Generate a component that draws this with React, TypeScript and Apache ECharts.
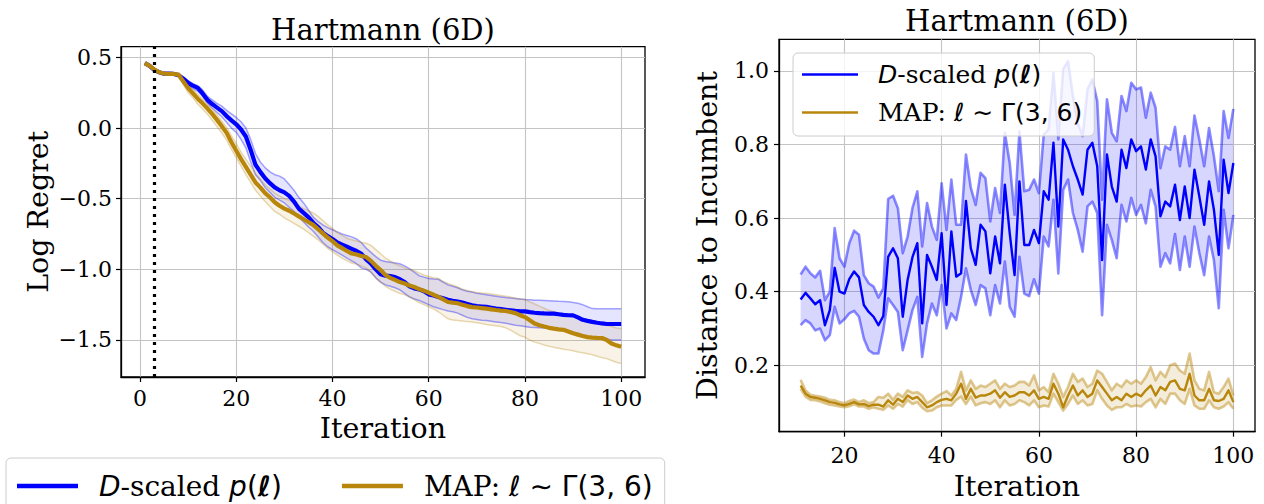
import React, { useEffect, useRef } from 'react';
import * as echarts from 'echarts';

// ---------------- DATA ----------------
const LEFT_ITER = Array.from({ length: 100 }, (_, k) => k + 1);
const RIGHT_ITER = Array.from({ length: 90 }, (_, k) => k + 11);
const VLINE_X = 3;

const LEFT_X_TICKS = [0, 20, 40, 60, 80, 100];
const LEFT_Y_TICKS = [-1.5, -1.0, -0.5, 0.0, 0.5];
const RIGHT_X_TICKS = [20, 40, 60, 80, 100];
const RIGHT_Y_TICKS = [0.2, 0.4, 0.6, 0.8, 1.0];

const NAME_D = 'D-scaled';
const NAME_MAP = 'MAP';

// Left: Log Regret
const L_BLUE_MEAN = [
  0.46, 0.44, 0.41, 0.395, 0.385, 0.385, 0.383, 0.375, 0.35, 0.32,
  0.30, 0.285, 0.245, 0.20, 0.17, 0.145, 0.12, 0.085, 0.055, 0.027,
  -0.01, -0.06, -0.155, -0.26, -0.31, -0.355, -0.39, -0.42, -0.44, -0.455,
  -0.48, -0.52, -0.57, -0.60, -0.63, -0.67, -0.70, -0.74, -0.765, -0.785,
  -0.81, -0.825, -0.84, -0.855, -0.87, -0.89, -0.93, -0.96, -1.0, -1.035,
  -1.045, -1.048, -1.055, -1.07, -1.09, -1.12, -1.135, -1.142, -1.155, -1.177,
  -1.185, -1.195, -1.205, -1.215, -1.222, -1.228, -1.235, -1.245, -1.255, -1.26,
  -1.263, -1.266, -1.272, -1.278, -1.282, -1.286, -1.29, -1.294, -1.297, -1.298,
  -1.303, -1.307, -1.31, -1.312, -1.313, -1.314, -1.318, -1.322, -1.325, -1.326,
  -1.34, -1.357, -1.365, -1.372, -1.378, -1.383, -1.387, -1.387, -1.387, -1.387,
];
const L_BLUE_HI = [
  0.465, 0.445, 0.415, 0.40, 0.39, 0.39, 0.388, 0.38, 0.36, 0.335,
  0.315, 0.30, 0.27, 0.225, 0.20, 0.175, 0.155, 0.125, 0.10, 0.075,
  0.045, 0.0, -0.08, -0.18, -0.24, -0.28, -0.31, -0.33, -0.34, -0.36,
  -0.40, -0.44, -0.49, -0.53, -0.58, -0.63, -0.66, -0.685, -0.705, -0.72,
  -0.735, -0.75, -0.76, -0.77, -0.785, -0.81, -0.85, -0.88, -0.91, -0.935,
  -0.945, -0.95, -0.955, -0.96, -0.975, -0.995, -1.02, -1.045, -1.055, -1.065,
  -1.068, -1.07, -1.09, -1.11, -1.12, -1.13, -1.145, -1.155, -1.16, -1.17,
  -1.175, -1.18, -1.185, -1.19, -1.195, -1.20, -1.203, -1.206, -1.21, -1.214,
  -1.216, -1.218, -1.219, -1.22, -1.222, -1.224, -1.226, -1.227, -1.23, -1.235,
  -1.24, -1.25, -1.265, -1.278, -1.279, -1.279, -1.279, -1.279, -1.279, -1.279,
];
const L_BLUE_LO = [
  0.455, 0.435, 0.405, 0.39, 0.38, 0.38, 0.378, 0.37, 0.335, 0.30,
  0.28, 0.26, 0.225, 0.175, 0.14, 0.11, 0.08, 0.04, 0.0, -0.03,
  -0.08, -0.14, -0.24, -0.33, -0.37, -0.42, -0.455, -0.49, -0.51, -0.53,
  -0.56, -0.59, -0.63, -0.665, -0.70, -0.73, -0.77, -0.81, -0.84, -0.86,
  -0.88, -0.90, -0.92, -0.94, -0.96, -0.99, -1.0, -1.02, -1.06, -1.09,
  -1.11, -1.12, -1.13, -1.145, -1.17, -1.195, -1.21, -1.22, -1.235, -1.25,
  -1.265, -1.275, -1.285, -1.295, -1.30, -1.31, -1.325, -1.34, -1.35, -1.355,
  -1.36, -1.362, -1.367, -1.372, -1.377, -1.381, -1.388, -1.395, -1.40, -1.405,
  -1.41, -1.412, -1.414, -1.416, -1.418, -1.42, -1.421, -1.423, -1.435, -1.445,
  -1.455, -1.465, -1.475, -1.48, -1.483, -1.488, -1.495, -1.5, -1.5, -1.5,
];
const L_GOLD_MEAN = [
  0.46, 0.44, 0.415, 0.395, 0.386, 0.384, 0.383, 0.378, 0.33, 0.283,
  0.245, 0.208, 0.175, 0.14, 0.10, 0.058, 0.013, -0.034, -0.10, -0.16,
  -0.22, -0.275, -0.33, -0.385, -0.42, -0.46, -0.49, -0.525, -0.55, -0.57,
  -0.585, -0.605, -0.625, -0.645, -0.665, -0.685, -0.715, -0.745, -0.775, -0.80,
  -0.83, -0.85, -0.87, -0.888, -0.895, -0.905, -0.913, -0.94, -0.975, -1.005,
  -1.04, -1.06, -1.075, -1.09, -1.10, -1.115, -1.125, -1.14, -1.152, -1.165,
  -1.18, -1.195, -1.213, -1.231, -1.236, -1.24, -1.25, -1.26, -1.267, -1.27,
  -1.274, -1.278, -1.283, -1.288, -1.292, -1.295, -1.302, -1.31, -1.325, -1.338,
  -1.36, -1.383, -1.395, -1.405, -1.414, -1.42, -1.425, -1.428, -1.44, -1.452,
  -1.462, -1.472, -1.48, -1.483, -1.485, -1.486, -1.50, -1.525, -1.538, -1.548,
];
const L_GOLD_HI = [
  0.465, 0.445, 0.42, 0.40, 0.39, 0.388, 0.387, 0.383, 0.35, 0.31,
  0.275, 0.24, 0.205, 0.175, 0.135, 0.095, 0.05, 0.005, -0.055, -0.11,
  -0.17, -0.22, -0.27, -0.32, -0.36, -0.40, -0.43, -0.46, -0.48, -0.50,
  -0.51, -0.53, -0.55, -0.57, -0.585, -0.60, -0.625, -0.655, -0.685, -0.71,
  -0.74, -0.76, -0.78, -0.79, -0.80, -0.81, -0.815, -0.83, -0.86, -0.89,
  -0.92, -0.94, -0.96, -0.975, -0.99, -1.0, -1.01, -1.025, -1.04, -1.05,
  -1.06, -1.065, -1.085, -1.10, -1.112, -1.125, -1.14, -1.15, -1.158, -1.163,
  -1.167, -1.17, -1.175, -1.18, -1.185, -1.19, -1.195, -1.205, -1.21, -1.214,
  -1.23, -1.245, -1.26, -1.275, -1.29, -1.30, -1.31, -1.315, -1.32, -1.326,
  -1.34, -1.355, -1.365, -1.37, -1.375, -1.385, -1.395, -1.405, -1.415, -1.421,
];
const L_GOLD_LO = [
  0.455, 0.435, 0.41, 0.39, 0.382, 0.38, 0.379, 0.372, 0.31, 0.25,
  0.215, 0.17, 0.135, 0.10, 0.055, 0.01, -0.035, -0.085, -0.15, -0.21,
  -0.27, -0.33, -0.385, -0.44, -0.48, -0.52, -0.555, -0.59, -0.61, -0.635,
  -0.655, -0.675, -0.695, -0.715, -0.74, -0.765, -0.79, -0.82, -0.85, -0.875,
  -0.90, -0.92, -0.94, -0.955, -0.965, -0.975, -0.99, -1.02, -1.06, -1.09,
  -1.12, -1.14, -1.155, -1.17, -1.18, -1.195, -1.215, -1.235, -1.25, -1.265,
  -1.28, -1.30, -1.325, -1.35, -1.358, -1.362, -1.366, -1.37, -1.373, -1.378,
  -1.384, -1.39, -1.395, -1.40, -1.405, -1.414, -1.43, -1.45, -1.47, -1.481,
  -1.50, -1.515, -1.524, -1.535, -1.545, -1.552, -1.558, -1.565, -1.57, -1.576,
  -1.585, -1.59, -1.597, -1.605, -1.615, -1.625, -1.632, -1.645, -1.658, -1.667,
];

// Right: Distance to Incumbent (iterations 11..100)
const R_BLUE_MEAN = [
  0.379, 0.397, 0.382, 0.366, 0.377, 0.309, 0.35, 0.465, 0.4, 0.395,
  0.434, 0.455, 0.439, 0.364, 0.345, 0.332, 0.309, 0.334, 0.495, 0.518,
  0.491, 0.332, 0.432, 0.494, 0.532, 0.314, 0.5, 0.468, 0.432, 0.559,
  0.364, 0.564, 0.441, 0.45, 0.647, 0.518, 0.473, 0.582, 0.564, 0.45,
  0.55, 0.477, 0.691, 0.559, 0.445, 0.7, 0.527, 0.527, 0.568, 0.532,
  0.673, 0.65, 0.805, 0.577, 0.814, 0.786, 0.741, 0.705, 0.664, 0.786,
  0.805, 0.741, 0.486, 0.773, 0.686, 0.645, 0.786, 0.736, 0.814, 0.782,
  0.795, 0.732, 0.814, 0.768, 0.605, 0.645, 0.632, 0.691, 0.595, 0.686,
  0.6, 0.732, 0.659, 0.582, 0.7, 0.623, 0.5, 0.759, 0.668, 0.75,
];
const R_BLUE_HI = [
  0.447, 0.468, 0.45, 0.439, 0.457, 0.377, 0.4, 0.573, 0.491, 0.468,
  0.532, 0.566, 0.555, 0.445, 0.423, 0.414, 0.384, 0.409, 0.652, 0.661,
  0.627, 0.505, 0.55, 0.627, 0.673, 0.523, 0.641, 0.577, 0.541, 0.695,
  0.568, 0.705, 0.582, 0.582, 0.773, 0.682, 0.636, 0.723, 0.709, 0.591,
  0.682, 0.614, 0.832, 0.75, 0.609, 0.836, 0.673, 0.677, 0.705, 0.668,
  0.827, 0.841, 0.995, 0.814, 1.005, 1.027, 0.932, 0.859, 0.823, 0.95,
  0.977, 0.918, 0.65, 0.923, 0.832, 0.809, 0.932, 0.891, 0.968, 0.95,
  0.955, 0.873, 0.941, 0.9, 0.736, 0.795, 0.786, 0.848, 0.741, 0.823,
  0.741, 0.879, 0.814, 0.741, 0.845, 0.768, 0.673, 0.891, 0.818, 0.897,
];
const R_BLUE_LO = [
  0.309, 0.323, 0.314, 0.295, 0.3, 0.268, 0.282, 0.359, 0.314, 0.325,
  0.341, 0.348, 0.332, 0.273, 0.241, 0.232, 0.232, 0.295, 0.382, 0.364,
  0.345, 0.241, 0.295, 0.35, 0.386, 0.223, 0.314, 0.368, 0.336, 0.418,
  0.3, 0.341, 0.323, 0.386, 0.464, 0.405, 0.364, 0.418, 0.409, 0.336,
  0.418, 0.368, 0.482, 0.359, 0.332, 0.495, 0.395, 0.388, 0.434, 0.395,
  0.55, 0.523, 0.65, 0.45, 0.677, 0.705, 0.614, 0.568, 0.509, 0.632,
  0.645, 0.614, 0.336, 0.582, 0.541, 0.491, 0.636, 0.591, 0.655, 0.609,
  0.636, 0.586, 0.677, 0.632, 0.468, 0.505, 0.477, 0.557, 0.459, 0.55,
  0.468, 0.577, 0.505, 0.445, 0.55, 0.486, 0.355, 0.623, 0.518, 0.609,
];
const R_GOLD_MEAN = [
  0.145, 0.123, 0.114, 0.112, 0.109, 0.105, 0.1, 0.098, 0.094, 0.091,
  0.095, 0.1, 0.094, 0.095, 0.089, 0.093, 0.093, 0.088, 0.105, 0.093,
  0.109, 0.1, 0.118, 0.109, 0.114, 0.1, 0.086, 0.091, 0.1, 0.106,
  0.109, 0.105, 0.123, 0.15, 0.109, 0.136, 0.112, 0.118, 0.118, 0.123,
  0.132, 0.112, 0.127, 0.114, 0.118, 0.127, 0.127, 0.118, 0.132, 0.109,
  0.114, 0.109, 0.15, 0.123, 0.086, 0.118, 0.145, 0.118, 0.132, 0.114,
  0.123, 0.159, 0.141, 0.123, 0.105, 0.114, 0.105, 0.123, 0.114, 0.123,
  0.116, 0.132, 0.145, 0.118, 0.141, 0.132, 0.155, 0.159, 0.136, 0.132,
  0.177, 0.118, 0.105, 0.105, 0.136, 0.105, 0.103, 0.109, 0.132, 0.1,
];
const R_GOLD_HI = [
  0.161, 0.132, 0.12, 0.117, 0.115, 0.112, 0.106, 0.105, 0.1, 0.097,
  0.103, 0.107, 0.1, 0.105, 0.097, 0.1, 0.114, 0.112, 0.123, 0.106,
  0.123, 0.114, 0.132, 0.125, 0.127, 0.118, 0.097, 0.105, 0.115, 0.123,
  0.13, 0.118, 0.136, 0.182, 0.132, 0.159, 0.136, 0.145, 0.141, 0.15,
  0.159, 0.136, 0.15, 0.141, 0.145, 0.155, 0.155, 0.145, 0.173, 0.132,
  0.141, 0.127, 0.177, 0.15, 0.114, 0.141, 0.177, 0.155, 0.164, 0.141,
  0.15, 0.186, 0.177, 0.155, 0.132, 0.15, 0.141, 0.159, 0.15, 0.159,
  0.15, 0.168, 0.195, 0.159, 0.182, 0.168, 0.2, 0.205, 0.186, 0.177,
  0.232, 0.159, 0.136, 0.132, 0.182, 0.127, 0.123, 0.141, 0.164, 0.118,
];
const R_GOLD_LO = [
  0.136, 0.115, 0.106, 0.105, 0.102, 0.097, 0.093, 0.091, 0.088, 0.086,
  0.089, 0.094, 0.088, 0.088, 0.082, 0.086, 0.082, 0.079, 0.091, 0.082,
  0.095, 0.088, 0.106, 0.095, 0.1, 0.085, 0.075, 0.077, 0.086, 0.091,
  0.091, 0.091, 0.106, 0.115, 0.095, 0.115, 0.091, 0.097, 0.1, 0.095,
  0.105, 0.086, 0.105, 0.091, 0.095, 0.105, 0.1, 0.091, 0.105, 0.086,
  0.091, 0.088, 0.123, 0.1, 0.077, 0.095, 0.118, 0.095, 0.105, 0.091,
  0.095, 0.132, 0.109, 0.091, 0.079, 0.086, 0.086, 0.095, 0.088, 0.091,
  0.088, 0.1, 0.109, 0.086, 0.109, 0.095, 0.123, 0.123, 0.105, 0.095,
  0.136, 0.091, 0.082, 0.082, 0.105, 0.086, 0.082, 0.088, 0.1, 0.082,
];

// ---------------- STYLE ----------------
const BLUE = '#0000ff';
const GOLD = '#b8860b';
const blueA = (a: number) => `rgba(0,0,255,${a})`;
const goldA = (a: number) => `rgba(184,134,11,${a})`;
const SERIF = '"DejaVu Serif", serif';
const SANS = '"DejaVu Sans", sans-serif';
const TICK_FS = 22;

const pairs = (xs: number[], ys: number[]) => xs.map((x, i) => [x, ys[i]]);

function lineSeries(name: string, gi: number, xs: number[], ys: number[], color: string, width: number, extra: any = {}) {
  return {
    type: 'line', name, xAxisIndex: gi, yAxisIndex: gi, data: pairs(xs, ys), color,
    symbol: 'none', showSymbol: false, silent: true, emphasis: { disabled: true },
    lineStyle: { color, width, cap: 'butt', join: 'round' }, ...extra,
  };
}

function bandFill(name: string, gi: number, xs: number[], lo: number[], hi: number[], fill: string) {
  return {
    type: 'custom', name, xAxisIndex: gi, yAxisIndex: gi, silent: true, clip: true,
    data: xs.map((x, i) => [x, lo[i], hi[i]]),
    encode: { x: 0, y: [1, 2] },
    renderItem: (params: any, api: any) => {
      if (params.dataIndex !== 0) return null;
      const top = xs.map((x, i) => api.coord([x, hi[i]]));
      const bot = xs.map((x, i) => api.coord([x, lo[i]])).reverse();
      return { type: 'polygon', shape: { points: top.concat(bot) }, style: { fill, stroke: 'none' } };
    },
  };
}

function band(prefix: string, gi: number, xs: number[], lo: number[], hi: number[],
  edge: string, fill: string, width: number) {
  return [
    bandFill(prefix + '_fill', gi, xs, lo, hi, fill),
    lineSeries(prefix + '_lo', gi, xs, lo, edge, width),
    lineSeries(prefix + '_hi', gi, xs, hi, edge, width),
  ];
}

const fmtNum = (digits: number) => (v: number) => {
  const s = Math.abs(v).toFixed(digits);
  return v < -1e-9 ? '\u2212' + s : s;
};

function axis(gi: number, min: number, max: number, ticks: number[], fmt: (v: number) => string,
  margin: number, name: string, nameGap: number) {
  return {
    type: 'value', gridIndex: gi, min, max,
    name, nameLocation: 'middle', nameGap,
    nameTextStyle: { fontFamily: SERIF, fontSize: 28.5, color: '#000' },
    axisLine: { show: true, onZero: false, lineStyle: { color: '#000', width: 1.3 } },
    axisTick: { show: true, inside: false, length: 5, customValues: ticks, lineStyle: { color: '#000', width: 1.2 } },
    axisLabel: { show: true, customValues: ticks, formatter: fmt, margin, fontFamily: SERIF, fontSize: TICK_FS, color: '#000' },
    splitLine: { show: true, lineStyle: { color: '#c4c4c4', width: 1.1 } },
    minorTick: { show: false }, minorSplitLine: { show: false },
  };
}

function richFor(fs: number, lh: number, padL: number) {
  const base = { fontSize: fs, lineHeight: lh, color: '#000' };
  return {
    pi: { ...base, fontFamily: SANS, fontStyle: 'italic', padding: [0, 0, 0, padL] },
    ps: { ...base, fontFamily: SERIF, padding: [0, 0, 0, padL] },
    it: { ...base, fontFamily: SANS, fontStyle: 'italic' },
    bi: { ...base, fontFamily: SANS, fontStyle: 'italic', fontWeight: 'bold' },
    sf: { ...base, fontFamily: SERIF },
    sn: { ...base, fontFamily: SANS },
  };
}
const legendFormatter = (name: string) =>
  name === NAME_D
    ? '{pi|D}{sf|-scaled }{it|p}{sn|(}{bi|\u2113}{sn|)}'
    : '{ps|MAP: }{it|\u2113}{sn| \u223C \u0393(3, 6)}';

export default function App() {
  const ref = useRef<HTMLDivElement>(null);
  useEffect(() => {
    if (!ref.current) return;
    const chart = echarts.init(ref.current, undefined, { renderer: 'svg' });
    const option: any = {
      animation: false,
      backgroundColor: '#ffffff',
      grid: [
        { left: 121, top: 46.7, width: 524, height: 330.3, show: true, borderColor: '#000', borderWidth: 1.3, containLabel: false, outerBoundsMode: 'none' },
        { left: 779, top: 39.3, width: 476, height: 392.4, show: true, borderColor: '#000', borderWidth: 1.3, containLabel: false, outerBoundsMode: 'none' },
      ],
      xAxis: [
        axis(0, -3.95, 104.95, LEFT_X_TICKS, (v: number) => String(v), 10, 'Iteration', 31.5),
        axis(1, 6.55, 104.45, RIGHT_X_TICKS, (v: number) => String(v), 13, 'Iteration', 37),
      ],
      yAxis: [
        axis(0, -1.762, 0.576, LEFT_Y_TICKS, fmtNum(1), 9, 'Log Regret', 68.5),
        axis(1, 0.0196, 1.0861, RIGHT_Y_TICKS, fmtNum(1), 10, 'Distance to Incumbent', 57.5),
      ],
      legend: [
        {
          data: [NAME_D, NAME_MAP], orient: 'horizontal', left: 6, top: 458,
          padding: [14, 12, 16, 11], itemWidth: 61, itemHeight: 4.5, itemGap: 60, icon: 'rect',
          backgroundColor: 'rgba(255,255,255,0.8)', borderColor: '#cccccc', borderWidth: 1, borderRadius: 5,
          selectedMode: false, formatter: legendFormatter,
          textStyle: { rich: richFor(28, 34, 16) },
        },
        {
          data: [NAME_D, NAME_MAP], orient: 'vertical', left: 793, top: 53,
          padding: [9, 12, 11, 9], itemWidth: 56, itemHeight: 2.7, itemGap: 13, icon: 'rect',
          backgroundColor: 'rgba(255,255,255,0.8)', borderColor: '#cccccc', borderWidth: 1, borderRadius: 5,
          selectedMode: false, formatter: legendFormatter,
          textStyle: { rich: richFor(25, 28, 15) },
        },
      ],
      graphic: [
        { type: 'text', x: 383, y: 30, style: { text: 'Hartmann (6D)', fontFamily: SERIF, fontSize: 29, fill: '#000', align: 'center', verticalAlign: 'middle' } },
        { type: 'text', x: 1017, y: 20.5, style: { text: 'Hartmann (6D)', fontFamily: SERIF, fontSize: 29, fill: '#000', align: 'center', verticalAlign: 'middle' } },
      ],
      series: [
        ...band('lb', 0, LEFT_ITER, L_BLUE_LO, L_BLUE_HI, blueA(0.35), blueA(0.1), 1.5),
        ...band('lg', 0, LEFT_ITER, L_GOLD_LO, L_GOLD_HI, goldA(0.3), goldA(0.1), 1.5),
        lineSeries(NAME_D, 0, LEFT_ITER, L_BLUE_MEAN, BLUE, 4.2),
        lineSeries(NAME_MAP, 0, LEFT_ITER, L_GOLD_MEAN, GOLD, 4.2, {
          markLine: {
            silent: true, symbol: ['none', 'none'], label: { show: false }, emphasis: { disabled: true },
            lineStyle: { color: '#000', width: 3.2, type: [3, 5], cap: 'butt' },
            data: [{ xAxis: VLINE_X }],
          },
        }),
        ...band('rb', 1, RIGHT_ITER, R_BLUE_LO, R_BLUE_HI, blueA(0.45), blueA(0.16), 2.6),
        ...band('rg', 1, RIGHT_ITER, R_GOLD_LO, R_GOLD_HI, goldA(0.45), goldA(0.15), 2.6),
        lineSeries(NAME_D, 1, RIGHT_ITER, R_BLUE_MEAN, BLUE, 2.4),
        lineSeries(NAME_MAP, 1, RIGHT_ITER, R_GOLD_MEAN, GOLD, 2.4),
      ],
    };
    chart.setOption(option);
    return () => chart.dispose();
  }, []);
  return (
    <div
      ref={ref}
      style={{ position: 'fixed', left: 0, top: 0, width: 1264, height: 504, background: '#fff' }}
    />
  );
}
